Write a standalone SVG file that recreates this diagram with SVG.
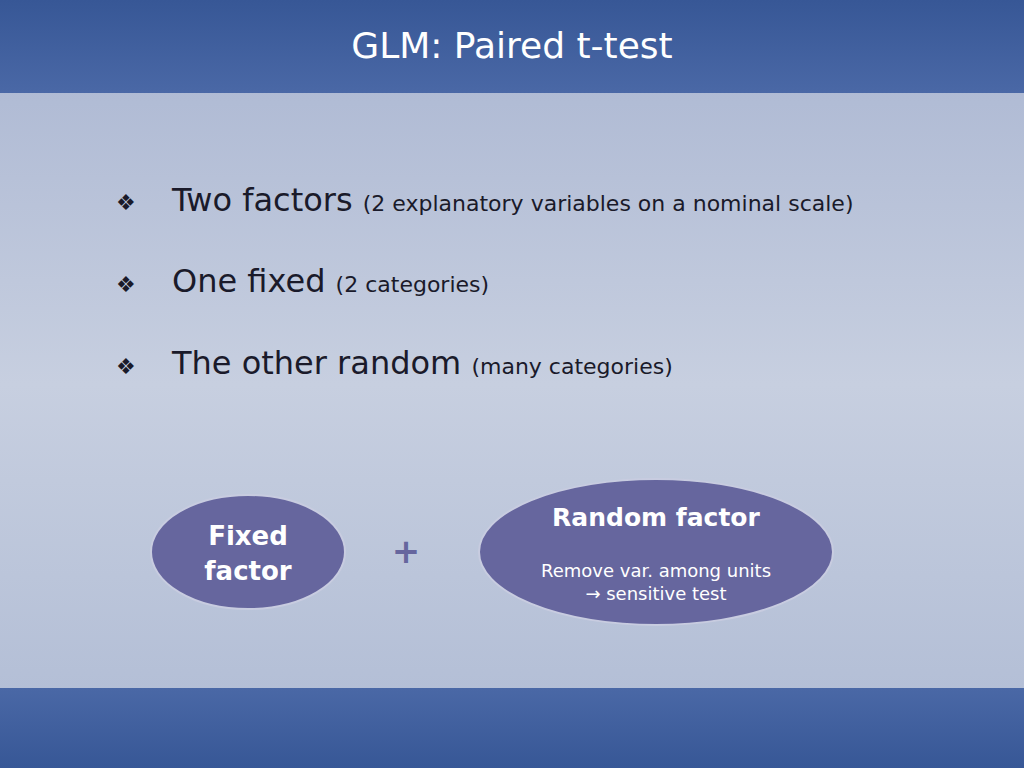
<svg xmlns="http://www.w3.org/2000/svg" width="1024" height="768" viewBox="0 0 1024 768">
<defs>
<linearGradient id="hd" x1="0" y1="0" x2="0" y2="1"><stop offset="0" stop-color="#375796"/><stop offset="1" stop-color="#4a68a6"/></linearGradient>
<linearGradient id="bd" x1="0" y1="0" x2="0" y2="1"><stop offset="0" stop-color="#a9b5d1"/><stop offset="0.5" stop-color="#c7cfe0"/><stop offset="1" stop-color="#afbbd4"/></linearGradient>
<linearGradient id="ft" x1="0" y1="0" x2="0" y2="1"><stop offset="0" stop-color="#4a68a6"/><stop offset="1" stop-color="#375796"/></linearGradient>
<style>
.t{font-family:"DejaVu Sans",sans-serif;fill:#1a1a2a}
.w{font-family:"DejaVu Sans",sans-serif;fill:#ffffff;text-anchor:middle}
.n{fill:#66669e;stroke:#c8cce0;stroke-width:2}
</style>
</defs>
<rect width="1024" height="768" fill="url(#bd)"/>
<rect width="1024" height="93" fill="url(#hd)"/>
<rect y="688" width="1024" height="80" fill="url(#ft)"/>
<text x="512" y="58" class="w" font-size="36" fill="#e8ecf8">GLM:  Paired t-test</text>
<text x="116" y="210" class="t" font-size="22">❖</text>
<text x="172" y="211" class="t" font-size="32">Two factors <tspan font-size="22">(2 explanatory variables on a nominal scale)</tspan></text>
<text x="116" y="292" class="t" font-size="22">❖</text>
<text x="172" y="292" class="t" font-size="32">One fixed <tspan font-size="22">(2 categories)</tspan></text>
<text x="116" y="374" class="t" font-size="22">❖</text>
<text x="172" y="374" class="t" font-size="32">The other random <tspan font-size="22">(many categories)</tspan></text>
<g id="fixed"><ellipse class="n" cx="248" cy="552" rx="97" ry="57"/>
<text x="248" y="545" class="w" font-size="26" font-weight="bold">Fixed</text>
<text x="248" y="580" class="w" font-size="26" font-weight="bold">factor</text></g>
<text x="406" y="563" font-family="DejaVu Sans,sans-serif" font-size="34" fill="#66669e" text-anchor="middle" font-weight="bold">+</text>
<g id="random"><ellipse class="n" cx="656" cy="552" rx="177" ry="73"/>
<text x="656" y="526" class="w" font-size="25" font-weight="bold">Random factor</text>
<text x="656" y="577" class="w" font-size="18">Remove var. among units</text>
<text x="656" y="600" class="w" font-size="18">→ sensitive test</text></g>
<g id="connectors"/>
</svg>
